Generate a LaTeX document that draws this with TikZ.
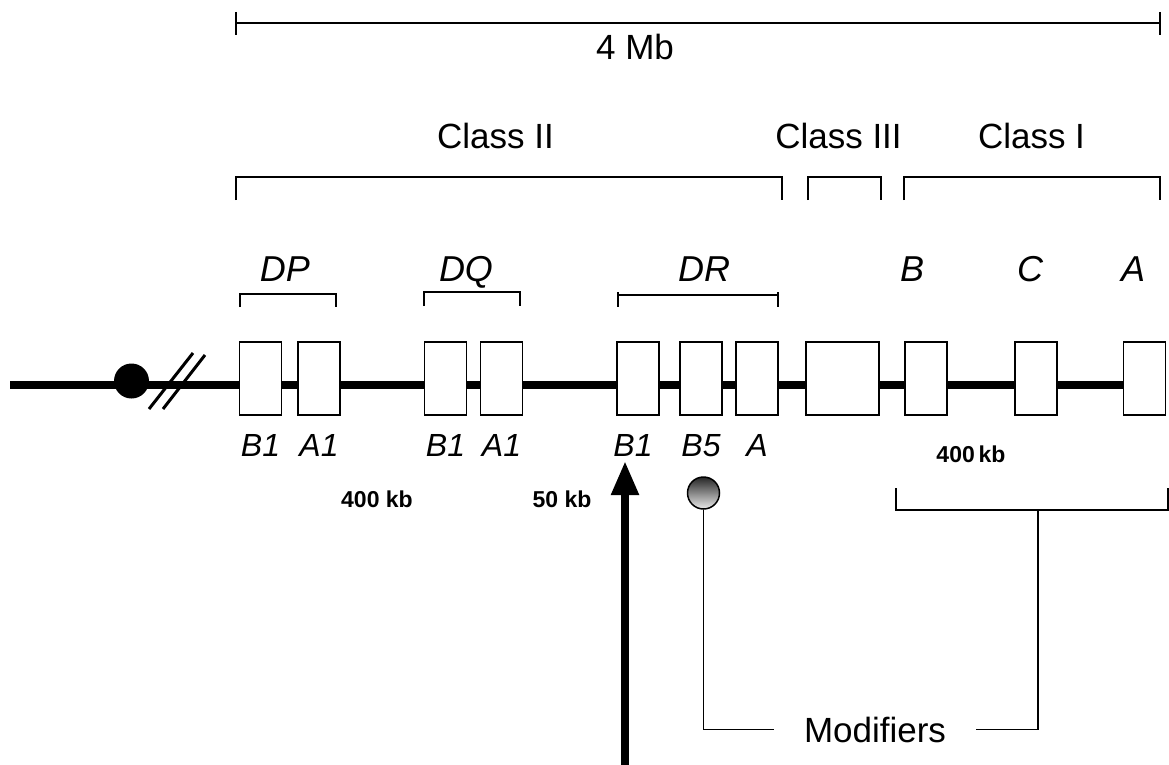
\documentclass[tikz,border=0pt]{standalone}
\usepackage{fontspec}
\setmainfont{Liberation Sans}
\usetikzlibrary{positioning,arrows.meta}

\begin{document}
\begin{tikzpicture}[x=1pt,y=-1pt,
    every node/.style={font=\fontsize{35}{40}\selectfont, inner sep=0pt},
    gene/.style={draw, fill=white, line width=1.8pt,
                 minimum height=73pt, minimum width=42pt},
    locus/.style={font=\fontsize{32}{36}\selectfont\itshape},
    region/.style={font=\fontsize{36}{40}\selectfont\itshape},
    kb/.style={font=\fontsize{23}{26}\selectfont\bfseries},
    rule/.style={line width=1.8pt}]
  \useasboundingbox (0,0) rectangle (1169,765);
  % scale bar
  \draw[rule] (236,23) -- (1160,23);
  \draw[rule] (236,12) -- (236,35);
  \draw[rule] (1160,12) -- (1160,35);
  \node[anchor=base] (mb) at (635,60) {4 Mb};
  % class brackets
  \node[anchor=base] (cII) at (495.5,148) {Class II};
  \node[anchor=base] (cIII) at (838.5,148) {Class III};
  \node[anchor=base] (cI) at (1031.5,148) {Class I};
  \draw[rule] (236,200) |- (782,177) -- (782,200);
  \draw[rule] (808,200) |- (881,177) -- (881,200);
  \draw[rule] (904,200) |- (1160,177) -- (1160,200);
  % loci
  \node[region, anchor=base] (dp) at (285,281) {DP};
  \node[region, anchor=base] (dq) at (466,281) {DQ};
  \node[region, anchor=base] (dr) at (704,281) {DR};
  \node[region, anchor=base] (lb) at (912,281) {B};
  \node[region, anchor=base] (lc) at (1030,281) {C};
  \node[region, anchor=base] (la) at (1133,281) {A};
  \draw[rule] (240,307) |- (336,294) -- (336,307);
  \draw[rule] (424,306) |- (520,292) -- (520,306);
  \draw[rule] (618,295) -- (778,295);
  \draw[rule] (618,292) -- (618,307);
  \draw[rule] (778,292) -- (778,307);
  % chromosome
  \coordinate (pter) at (10,385);
  \coordinate (qter) at (1130,385);
  \draw[line width=7.5pt] (pter) -- (qter);
  \fill (131.5,381) circle (17.5);
  \draw[line width=3pt] (149,409) -- (193,353);
  \draw[line width=3pt] (163,409) -- (205,355);
  % genes
  \node[gene] (dpb1) at (260.5,378.5) {};
  \node[gene] (dpa1) at (319,378.5) {};
  \node[gene] (dqb1) at (445.5,378.5) {};
  \node[gene] (dqa1) at (501.5,378.5) {};
  \node[gene] (drb1) at (638,378.5) {};
  \node[gene] (drb5) at (701,378.5) {};
  \node[gene] (dra) at (757,378.5) {};
  \node[gene, minimum width=73pt] (cl3) at (842.5,378.5) {};
  \node[gene] (gb) at (926,378.5) {};
  \node[gene] (gc) at (1036,378.5) {};
  \node[gene] (ga) at (1144.5,378.5) {};
  \node[locus, below=18pt of dpb1] (tdpb1) {B1};
  \node[locus, below=18pt of dpa1] (tdpa1) {A1};
  \node[locus, below=18pt of dqb1] (tdqb1) {B1};
  \node[locus, below=18pt of dqa1] (tdqa1) {A1};
  \node[locus, below=18pt of drb1, xshift=-5pt] (tdrb1) {B1};
  \node[locus, below=18pt of drb5] (tdrb5) {B5};
  \node[locus, below=18pt of dra] (tdra) {A};
  % sizes
  \node[kb, anchor=base] (kbII) at (377,507) {400 kb};
  \node[kb, anchor=base] (kbDR) at (562,507) {50 kb};
  \node[kb, anchor=base] (kbI) at (971,462) {400\,kb};
  % marker arrow
  \coordinate (arrbase) at (625,765);
  \coordinate (arrtip) at (625,461);
  \draw[line width=8pt, -{Triangle[length=34pt,width=26pt]}] (arrbase) -- (arrtip);
  % modifiers
  \node[circle, draw, line width=1.5pt, minimum size=32pt,
        top color=black!85, bottom color=black!8] (modcirc) at (703.5,493) {};
  \draw[rule] (896,488) |- (1168,510) -- (1168,488);
  \coordinate (brkI) at (1038,510);
  \node[anchor=base, inner xsep=30pt] (mod) at (875,742) {Modifiers};
  \draw[rule] (modcirc.south) |- (mod.west);
  \draw[rule] (mod.east) -| (brkI);
\end{tikzpicture}
\end{document}
